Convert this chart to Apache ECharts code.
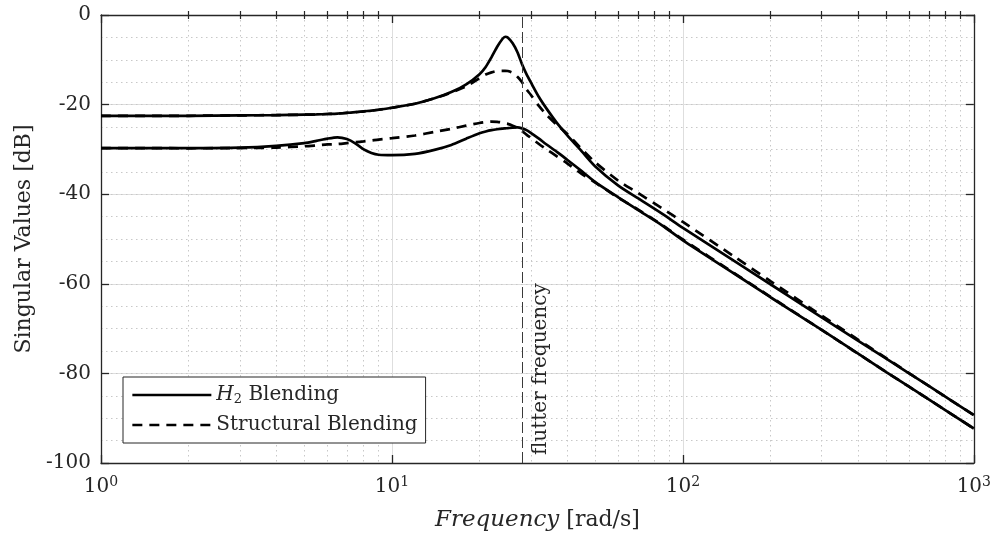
<!DOCTYPE html>
<html><head><meta charset="utf-8">
<script src="https://cdn.jsdelivr.net/npm/echarts@6/dist/echarts.min.js"></script>
<style>html,body{margin:0;padding:0;background:#fff}#c{width:994px;height:538px}</style>
</head><body><div id="c"></div>
<script>
// ---- data (frequency in rad/s, values in dB) ----
const freq = [1, 1.5, 2, 3, 4, 5, 5.5, 6, 6.5, 7, 7.5, 8, 8.5, 9, 10, 12, 14, 16, 18, 20, 21, 22, 23, 24, 24.5, 25, 26, 27, 28, 29, 30, 32, 34, 37, 40, 45, 50, 60, 70, 85, 100, 150, 200, 300, 500, 700, 1000];
const h2Upper = [-22.5, -22.5, -22.5, -22.4, -22.35, -22.25, -22.2, -22.1, -22.0, -21.85, -21.7, -21.5, -21.35, -21.15, -20.7, -19.8, -18.6, -17.2, -15.5, -13.2, -11.6, -9.4, -7.1, -5.3, -4.85, -5.0, -6.3, -8.3, -11.0, -13.2, -15.0, -18.3, -20.9, -24.2, -26.8, -30.5, -33.8, -38.1, -40.9, -44.4, -47.5, -54.9, -60.1, -67.5, -76.7, -82.8, -89.3];
const h2Lower = [-29.7, -29.7, -29.7, -29.6, -29.2, -28.6, -28.1, -27.6, -27.3, -27.7, -28.7, -30.0, -30.8, -31.2, -31.3, -31.0, -30.1, -29.0, -27.6, -26.4, -26.0, -25.7, -25.5, -25.35, -25.3, -25.25, -25.15, -25.1, -25.3, -25.7, -26.3, -27.6, -28.9, -30.6, -32.3, -34.9, -37.3, -40.7, -43.5, -47.0, -50.3, -57.7, -63.0, -70.3, -79.7, -85.8, -92.3];
const structUpper = [-22.5, -22.5, -22.5, -22.4, -22.35, -22.25, -22.2, -22.1, -22.0, -21.85, -21.7, -21.5, -21.35, -21.15, -20.7, -19.8, -18.6, -17.3, -15.9, -14.1, -13.3, -12.8, -12.5, -12.45, -12.45, -12.5, -12.9, -13.8, -15.0, -16.6, -17.8, -20.3, -22.3, -24.6, -26.5, -30.0, -32.9, -37.0, -39.7, -43.2, -46.2, -53.9, -59.4, -67.1, -76.6, -82.8, -89.3];
const structLower = [-29.7, -29.7, -29.75, -29.7, -29.6, -29.3, -29.1, -28.9, -28.8, -28.6, -28.4, -28.2, -28.0, -27.8, -27.5, -26.9, -26.1, -25.4, -24.7, -24.1, -23.9, -23.8, -23.85, -24.0, -24.2, -24.3, -24.7, -25.2, -25.9, -26.7, -27.4, -28.8, -30.0, -31.6, -33.1, -35.5, -37.4, -40.8, -43.4, -46.9, -50.1, -57.6, -62.9, -70.3, -79.7, -85.8, -92.3];
const flutterFreq = 28.1;
const xRange = [1, 1000];
const yRange = [-100, 0];
const yStep = 20;
const yMinorStep = 5;
const minorMultipliers = [2, 3, 4, 5, 6, 7, 8, 9];
const decades = [0, 1, 2];
const legendNames = ['H2', 'Struct'];

// ---- styling ----
const FONT = 'DejaVu Serif';
const TXT = '#262626';
const AX = '#262626';
const GRID = '#dedede';
const MINOR = '#c8c8c8';

const minorLogPos = [];
decades.forEach(d => minorMultipliers.forEach(m => minorLogPos.push(Math.log10(m * Math.pow(10, d)))));

const pairs = a => freq.map((f, i) => [f, a[i]]);

const lineSeries = (name, arr, dashed) => ({
  name, type: 'line', data: pairs(arr), xAxisIndex: 0, yAxisIndex: 0,
  showSymbol: false, symbol: 'none', smooth: 0.25, animation: false, silent: true,
  lineStyle: { color: '#000', width: 2.7, type: dashed ? [10, 7] : 'solid', cap: 'butt' },
  itemStyle: { color: '#000' }
});

const s0 = lineSeries('H2', h2Upper, false);
s0.markLine = {
  silent: true, symbol: ['none', 'none'], animation: false,
  lineStyle: { type: [11, 4], color: '#3a3a3a', width: 1 },
  label: { show: true, formatter: 'flutter frequency', position: 'insideStartBottom',
           fontFamily: FONT, fontSize: 20, color: TXT, distance: 8 },
  data: [{ xAxis: flutterFreq }]
};

const option = {
  animation: false,
  backgroundColor: '#fff',
  grid: { left: 101, right: 18, top: 15, bottom: 75, containLabel: false },
  legend: {
    left: 123, top: 377, orient: 'vertical',
    padding: [7, 8, 7, 8], itemWidth: 79, itemHeight: 14, itemGap: 8, itemTextGap: 7,
    backgroundColor: '#fff', borderColor: AX, borderWidth: 1, borderRadius: 0,
    data: legendNames,
    itemStyle: { opacity: 0, borderWidth: 0 },
    lineStyle: { width: 2.7 },
    formatter: n => n === 'H2' ? '{i|H}{s|2} Blending' : 'Structural Blending',
    textStyle: { fontFamily: FONT, fontSize: 20, color: TXT, lineHeight: 22,
      rich: {
        i: { fontFamily: FONT, fontStyle: 'italic', fontSize: 20, color: TXT, lineHeight: 22 },
        s: { fontFamily: FONT, fontSize: 13, color: TXT, lineHeight: 13, verticalAlign: 'bottom' }
      } }
  },
  xAxis: [
    { type: 'log', logBase: 10, min: xRange[0], max: xRange[1], position: 'bottom', offset: 0,
      name: '{i|Frequency} [rad/s]', nameLocation: 'middle', nameGap: 46,
      nameTextStyle: { fontFamily: FONT, fontSize: 22, color: TXT,
        rich: { i: { fontFamily: FONT, fontStyle: 'italic', fontSize: 23, color: TXT } } },
      axisLine: { show: true, onZero: false, lineStyle: { color: AX, width: 1.3 } },
      axisTick: { show: true, inside: true, length: 8, lineStyle: { color: AX, width: 1.3 } },
      axisLabel: { margin: 12, formatter: v => '{b|10}{p|' + Math.round(Math.log10(v)) + '}',
        rich: { b: { fontFamily: FONT, fontSize: 20, color: TXT, lineHeight: 24 },
                p: { fontFamily: FONT, fontSize: 14, color: TXT, lineHeight: 14, verticalAlign: 'top' } } },
      splitLine: { show: true, lineStyle: { color: GRID, width: 1 } },
      minorTick: { show: false }, minorSplitLine: { show: false } },
    { type: 'value', min: 0, max: 3, position: 'bottom', offset: 0,
      axisLine: { show: false },
      axisTick: { show: true, inside: true, length: 4, customValues: minorLogPos, lineStyle: { color: AX, width: 1.2 } },
      axisLabel: { show: false },
      splitLine: { show: true, lineStyle: { color: MINOR, width: 1, type: [1.5, 3.5] } } },
    { type: 'log', logBase: 10, min: xRange[0], max: xRange[1], position: 'top', offset: 0,
      axisLine: { show: true, onZero: false, lineStyle: { color: AX, width: 1.3 } },
      axisTick: { show: true, inside: true, length: 8, lineStyle: { color: AX, width: 1.3 } },
      axisLabel: { show: false }, splitLine: { show: false } },
    { type: 'value', min: 0, max: 3, position: 'top', offset: 0,
      axisLine: { show: false },
      axisTick: { show: true, inside: true, length: 4, customValues: minorLogPos, lineStyle: { color: AX, width: 1.2 } },
      axisLabel: { show: false }, splitLine: { show: false } }
  ],
  yAxis: [
    { type: 'value', min: yRange[0], max: yRange[1], interval: yStep, position: 'left', offset: 0,
      name: 'Singular Values [dB]', nameLocation: 'middle', nameGap: 59, nameRotate: 90,
      nameTextStyle: { fontFamily: FONT, fontSize: 22, color: TXT },
      axisLine: { show: true, onZero: false, lineStyle: { color: AX, width: 1.3 } },
      axisTick: { show: true, inside: true, length: 8, lineStyle: { color: AX, width: 1.3 } },
      axisLabel: { margin: 10, fontFamily: FONT, fontSize: 20, color: TXT },
      splitLine: { show: true, lineStyle: { color: GRID, width: 1 } } },
    { type: 'value', min: yRange[0], max: yRange[1], interval: yMinorStep, position: 'left', offset: 0,
      axisLine: { show: false }, axisTick: { show: false }, axisLabel: { show: false },
      splitLine: { show: true, lineStyle: { color: MINOR, width: 1, type: [1.5, 3.5] } } },
    { type: 'value', min: yRange[0], max: yRange[1], interval: yStep, position: 'right', offset: 0,
      axisLine: { show: true, onZero: false, lineStyle: { color: AX, width: 1.3 } },
      axisTick: { show: true, inside: true, length: 8, lineStyle: { color: AX, width: 1.3 } },
      axisLabel: { show: false }, splitLine: { show: false } }
  ],
  series: [
    s0,
    lineSeries('H2', h2Lower, false),
    lineSeries('Struct', structUpper, true),
    lineSeries('Struct', structLower, true)
  ]
};

const chart = echarts.init(document.getElementById('c'), null, { renderer: 'canvas' });
chart.setOption(option);
</script>
</body></html>
